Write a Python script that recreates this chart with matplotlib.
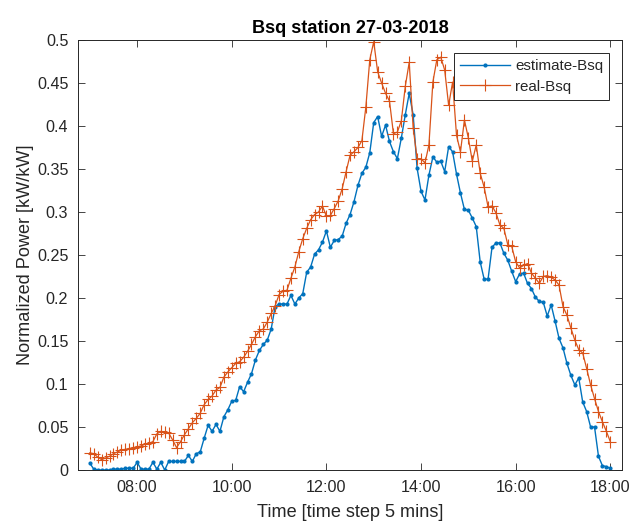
import matplotlib
matplotlib.use("Agg")
import matplotlib.pyplot as plt
import matplotlib.dates as mdates
from matplotlib.ticker import MultipleLocator, FormatStrFormatter
import pandas as pd

plt.rcParams["font.family"] = ["Liberation Sans", "DejaVu Sans"]

# 5-minute samples, 07:00 .. 18:00
times = pd.date_range("2018-03-27 07:00", "2018-03-27 18:00", freq="5min")

# estimated normalized power, one row per hour
estimate_bsq = [
    0.008, 0.001, 0.000, 0.000, 0.000, 0.000, 0.001, 0.001, 0.001, 0.002, 0.002, 0.002,
    0.009, 0.001, 0.001, 0.001, 0.009, 0.001, 0.009, 0.000, 0.010, 0.010, 0.010, 0.010,
    0.010, 0.017, 0.010, 0.019, 0.021, 0.037, 0.052, 0.045, 0.053, 0.045, 0.062, 0.070,
    0.080, 0.081, 0.097, 0.091, 0.102, 0.112, 0.128, 0.139, 0.146, 0.151, 0.164, 0.190,
    0.193, 0.193, 0.193, 0.203, 0.193, 0.200, 0.205, 0.230, 0.236, 0.251, 0.256, 0.265,
    0.278, 0.259, 0.267, 0.268, 0.272, 0.287, 0.297, 0.312, 0.331, 0.345, 0.352, 0.369,
    0.404, 0.411, 0.388, 0.401, 0.382, 0.370, 0.362, 0.386, 0.413, 0.438, 0.413, 0.351,
    0.324, 0.314, 0.343, 0.364, 0.358, 0.359, 0.347, 0.376, 0.370, 0.344, 0.322, 0.303,
    0.302, 0.293, 0.283, 0.242, 0.222, 0.222, 0.259, 0.264, 0.264, 0.252, 0.244, 0.231,
    0.219, 0.228, 0.229, 0.217, 0.211, 0.201, 0.196, 0.195, 0.179, 0.192, 0.173, 0.153,
    0.142, 0.124, 0.110, 0.099, 0.107, 0.079, 0.068, 0.050, 0.050, 0.016, 0.005, 0.004,
    0.002,
]

# measured normalized power
real_bsq = [
    0.020, 0.019, 0.015, 0.012, 0.014, 0.016, 0.019, 0.021, 0.023, 0.024, 0.025, 0.026,
    0.027, 0.028, 0.030, 0.031, 0.033, 0.042, 0.045, 0.044, 0.043, 0.035, 0.026, 0.033,
    0.041, 0.048, 0.055, 0.060, 0.066, 0.076, 0.082, 0.086, 0.093, 0.096, 0.108, 0.114,
    0.119, 0.124, 0.126, 0.131, 0.138, 0.146, 0.155, 0.162, 0.164, 0.172, 0.182, 0.191,
    0.204, 0.208, 0.209, 0.223, 0.236, 0.254, 0.269, 0.281, 0.291, 0.297, 0.300, 0.307,
    0.295, 0.296, 0.304, 0.313, 0.327, 0.347, 0.366, 0.370, 0.375, 0.383, 0.422, 0.477,
    0.498, 0.463, 0.450, 0.438, 0.429, 0.391, 0.393, 0.406, 0.446, 0.474, 0.398, 0.362,
    0.362, 0.357, 0.378, 0.451, 0.477, 0.480, 0.465, 0.424, 0.451, 0.389, 0.370, 0.407,
    0.386, 0.359, 0.378, 0.345, 0.329, 0.306, 0.307, 0.299, 0.285, 0.281, 0.262, 0.260,
    0.242, 0.235, 0.238, 0.240, 0.229, 0.223, 0.217, 0.225, 0.226, 0.224, 0.221, 0.215,
    0.190, 0.180, 0.165, 0.151, 0.140, 0.136, 0.118, 0.099, 0.083, 0.068, 0.056, 0.045,
    0.033,
]

ink = "#262626"

fig = plt.figure(figsize=(6.32, 5.22), dpi=100)
ax = fig.add_axes([0.1234, 0.0996, 0.8610, 0.8238])

ax.plot(times, estimate_bsq, color="#0072BD", lw=1.0, marker=".", ms=4,
        label="estimate-Bsq")
ax.plot(times, real_bsq, color="#D95319", lw=0.9, marker="+", ms=8, mew=0.8,
        label="real-Bsq")

ax.set_xlim(pd.Timestamp("2018-03-27 06:45"), pd.Timestamp("2018-03-27 18:15"))
ax.set_ylim(0, 0.5)
ax.xaxis.set_major_locator(mdates.HourLocator(byhour=range(8, 19, 2)))
ax.xaxis.set_major_formatter(mdates.DateFormatter("%H:%M"))
ax.yaxis.set_major_locator(MultipleLocator(0.05))
ax.yaxis.set_major_formatter(FormatStrFormatter("%g"))

ax.tick_params(direction="in", length=5, width=0.6, colors=ink,
               labelsize=11.6, top=True, right=True)
ax.tick_params(axis="y", pad=7)
ax.tick_params(axis="x", pad=7)
for s in ax.spines.values():
    s.set_color(ink)
    s.set_linewidth(0.7)

ax.set_xlabel("Time [time step 5 mins]", fontsize=13.1, color=ink, labelpad=7)
ax.set_ylabel("Normalized Power [kW/kW]", fontsize=13.1, color=ink, labelpad=2)
ax.set_title("Bsq station 27-03-2018", fontsize=13.1, fontweight="bold",
             color="black", pad=5)

leg = ax.legend(loc="upper right", bbox_to_anchor=(0.976, 0.970), borderaxespad=0,
                fontsize=10.9, numpoints=1, handlelength=3.3, handletextpad=0.3,
                labelspacing=0.45, borderpad=0.4, fancybox=False, framealpha=1,
                edgecolor=ink)
leg.get_frame().set_linewidth(0.7)
for t in leg.get_texts():
    t.set_color(ink)

fig.savefig("out.png", dpi=100)
